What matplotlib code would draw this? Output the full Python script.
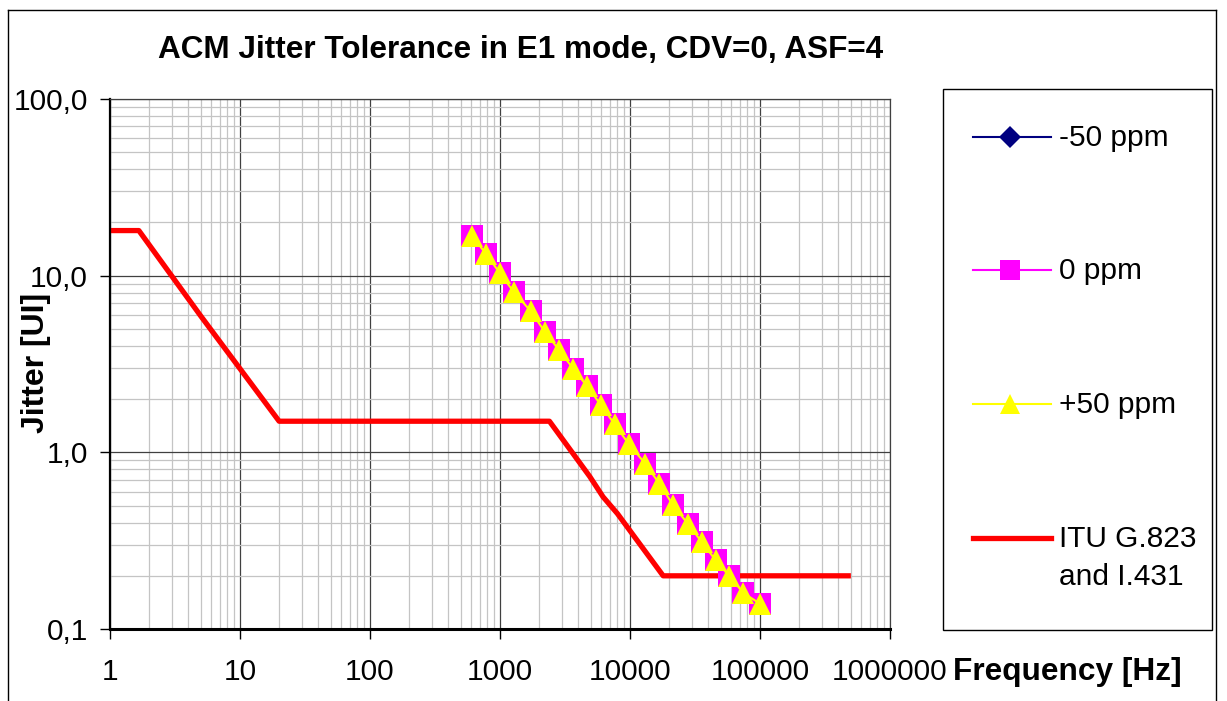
import matplotlib
matplotlib.use("Agg")
import matplotlib.pyplot as plt
from matplotlib.lines import Line2D
from matplotlib.patches import Rectangle
from matplotlib.ticker import FixedLocator, FixedFormatter, LogLocator, NullFormatter

plt.rcParams['font.family'] = ['Liberation Sans', 'DejaVu Sans']

# ---- data ----
title = "ACM Jitter Tolerance in E1 mode, CDV=0, ASF=4"
x_label = "Frequency [Hz]"
y_label = "Jitter [UI]"

meas_freq = [612, 780, 1000, 1280, 1720, 2220, 2830, 3650, 4670, 5980, 7620,
             9820, 13100, 16800, 21500, 27800, 35600, 45600, 58100, 74500, 100000]
jitter_m50 = [16.7, 13.3, 10.3, 8.07, 6.31, 4.80, 3.81, 2.98, 2.37, 1.85, 1.44,
              1.11, 0.863, 0.665, 0.501, 0.395, 0.311, 0.245, 0.199, 0.160, 0.139]
jitter_0 = [16.7, 13.3, 10.3, 8.07, 6.31, 4.80, 3.81, 2.98, 2.37, 1.85, 1.44,
            1.11, 0.863, 0.665, 0.501, 0.395, 0.311, 0.245, 0.199, 0.160, 0.139]
jitter_p50 = [16.7, 13.3, 10.3, 8.07, 6.31, 4.80, 3.81, 2.98, 2.37, 1.85, 1.44,
              1.11, 0.863, 0.665, 0.501, 0.395, 0.311, 0.245, 0.199, 0.160, 0.139]

itu_freq = [1, 1.667, 5, 20, 2400, 4900, 6200, 8000, 18000, 500000]
itu_jitter = [18, 18, 5.9, 1.5, 1.5, 0.73, 0.56, 0.45, 0.2, 0.2]

series_names = ["-50 ppm", "0 ppm", "+50 ppm", "ITU G.823\nand I.431"]

x_ticks = [1, 10, 100, 1000, 10000, 100000, 1000000]
x_tick_labels = ["1", "10", "100", "1000", "10000", "100000", "1000000"]
y_ticks = [0.1, 1, 10, 100]
y_tick_labels = ["0,1", "1,0", "10,0", "100,0"]

# ---- figure ----
W, H = 1227, 701
fig = plt.figure(figsize=(W / 100, H / 100), dpi=100)
fig.patch.set_facecolor('white')

def fx(px):
    return px / W

def fy(py):
    return 1 - py / H

ax = fig.add_axes([fx(110), fy(629), fx(890) - fx(110), fy(99) - fy(629)])
ax.set_xscale('log')
ax.set_yscale('log')
ax.set_xlim(1, 1e6)
ax.set_ylim(0.1, 100)

ax.xaxis.set_major_locator(FixedLocator(x_ticks))
ax.xaxis.set_major_formatter(FixedFormatter(x_tick_labels))
ax.yaxis.set_major_locator(FixedLocator(y_ticks))
ax.yaxis.set_major_formatter(FixedFormatter(y_tick_labels))
ax.xaxis.set_minor_locator(LogLocator(base=10, subs=range(2, 10), numticks=20))
ax.yaxis.set_minor_locator(LogLocator(base=10, subs=range(2, 10), numticks=20))
ax.xaxis.set_minor_formatter(NullFormatter())
ax.yaxis.set_minor_formatter(NullFormatter())

ax.tick_params(which='major', direction='out', length=7, width=1, labelsize=21.5, color='black')
ax.tick_params(axis='x', which='major', pad=14)
ax.tick_params(axis='y', which='major', pad=9)
ax.tick_params(which='minor', length=0)

ax.grid(True, which='minor', color='#c4c4c4', lw=0.9)
ax.grid(True, which='major', color='#404040', lw=0.9)
ax.set_axisbelow(True)

for s in ['top', 'right']:
    ax.spines[s].set_color('#404040')
    ax.spines[s].set_linewidth(0.9)
ax.spines['left'].set_color('black')
ax.spines['left'].set_linewidth(1.6)
ax.spines['bottom'].set_color('black')
ax.spines['bottom'].set_linewidth(2.2)

ms = 15.5
ax.plot(meas_freq, jitter_m50, color='#000080', lw=1.5, marker='D', ms=ms * 0.68,
        mfc='#000080', mec='#000080', mew=0, zorder=3)
ax.plot(meas_freq, jitter_0, color='#FF00FF', lw=1.5, marker='s', ms=ms,
        mfc='#FF00FF', mec='#FF00FF', mew=0, zorder=4)
ax.plot(meas_freq, jitter_p50, color='#FFFF00', lw=1.5, marker='^', ms=ms,
        mfc='#FFFF00', mec='#FFFF00', mew=0, zorder=5)
ax.plot(itu_freq, itu_jitter, color='#FF0000', lw=3.8, solid_capstyle='butt', zorder=2)

# ---- texts ----
fig.text(fx(521), fy(50), title, ha='center', va='center', fontsize=22.7, fontweight='bold')
fig.text(fx(953), fy(672), x_label, ha='left', va='center', fontsize=22.8, fontweight='bold')
fig.text(fx(36), fy(363), y_label, ha='center', va='center', rotation=90,
         fontsize=23, fontweight='bold')

# ---- legend (drawn manually) ----
fig.add_artist(Rectangle((fx(943), fy(630)), fx(1212) - fx(943), fy(89) - fy(630),
                         transform=fig.transFigure, facecolor='white', edgecolor='black', lw=1))
leg_specs = [
    ('#000080', 'D', 11.5, 1.5, 137),
    ('#FF00FF', 's', 14.0, 1.5, 270),
    ('#FFFF00', '^', 15.0, 1.5, 404),
    ('#FF0000', None, 0, 3.8, 538),
]
for (col, mk, msz, lw, yy), name in zip(leg_specs, series_names):
    fig.add_artist(Line2D([fx(973), fx(1051)], [fy(yy), fy(yy)], color=col, lw=lw,
                          transform=fig.transFigure))
    if mk:
        fig.add_artist(Line2D([fx(1010)], [fy(yy)], marker=mk, ms=msz, mfc=col, mec=col,
                              mew=0, linestyle='none', transform=fig.transFigure))
    for i, part in enumerate(name.split('\n')):
        fig.text(fx(1059), fy(yy + 1 + i * 38), part, ha='left', va='center', fontsize=21.5,
                 transform=fig.transFigure)

# ---- outer frame ----
fig.add_artist(Line2D([fx(8), fx(8)], [0, fy(10)], color='black', lw=1, transform=fig.transFigure))
fig.add_artist(Line2D([fx(8), fx(1216)], [fy(10), fy(10)], color='black', lw=1, transform=fig.transFigure))
fig.add_artist(Line2D([fx(1216), fx(1216)], [0, fy(10)], color='black', lw=1, transform=fig.transFigure))

fig.savefig('out.png', dpi=100)
